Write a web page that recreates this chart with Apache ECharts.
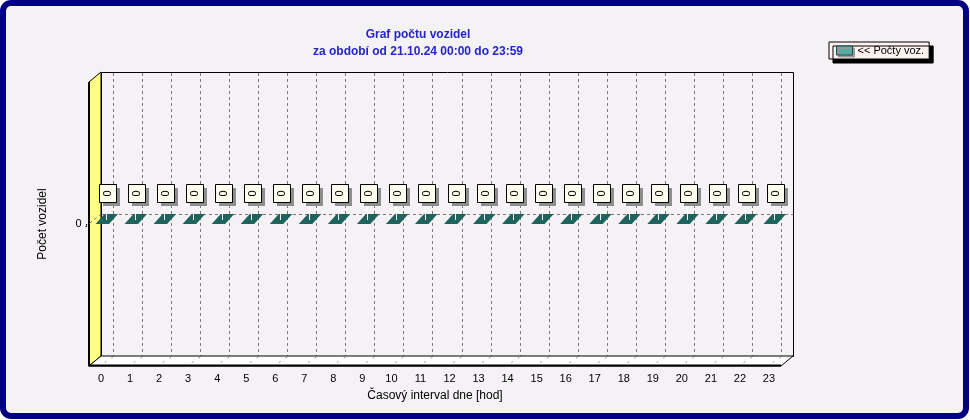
<!DOCTYPE html>
<html><head><meta charset="utf-8">
<script src="https://cdn.jsdelivr.net/npm/echarts@6/dist/echarts.min.js"></script>
<style>
html,body{margin:0;padding:0;background:#ffffff;}
#frame{position:absolute;left:0;top:0;width:969px;height:419px;box-sizing:border-box;border:6px solid #000080;border-radius:11px;background:#f5f2f5;}
#chart{position:absolute;left:0;top:0;width:970px;height:420px;}
</style></head><body>
<div id="frame"></div><div id="chart"></div>
<script>
// ---- data ----
const hours = [0, 1, 2, 3, 4, 5, 6, 7, 8, 9, 10, 11, 12, 13, 14, 15, 16, 17, 18, 19, 20, 21, 22, 23];
const counts = [0, 0, 0, 0, 0, 0, 0, 0, 0, 0, 0, 0, 0, 0, 0, 0, 0, 0, 0, 0, 0, 0, 0, 0];
const seriesName = '<< Počty voz.';
const titleText = 'Graf počtu vozidel\nza období od 21.10.24 00:00 do 23:59';
const xName = 'Časový interval dne [hod]';
const yName = 'Počet vozidel';
const yMin = -1, yMax = 1;
const yTickLabels = [0];

// ---- styling constants ----
const FONT = '"Liberation Sans", Arial, sans-serif';
const DEPTH_X = 12, DEPTH_Y = -10;      // 3D wall depth
const X_LO = -0.414, X_HI = 23.414;     // extent of the box on the x scale

const chart = echarts.init(document.getElementById('chart'), null, {renderer: 'canvas'});
const h = v => Math.round(v) + 0.5;

function renderFrame(params, api) {
  const tl = api.coord([X_LO, yMax]);
  const br = api.coord([X_HI, yMin]);
  const z0 = api.coord([X_LO, 0]);
  const L = tl[0], R = br[0], T = tl[1], B = br[1];
  const bL = L + DEPTH_X, bR = R + DEPTH_X, bT = T + DEPTH_Y, bB = B + DEPTH_Y;
  const ch = [];
  // back wall
  ch.push({type: 'rect', shape: {x: h(bL), y: h(bT), width: Math.round(bR - bL), height: Math.round(bB - bT)},
    style: {fill: '#f5f2f5', stroke: '#000', lineWidth: 1}});
  // back vertical dashed grid lines at categories
  hours.forEach(k => {
    const p = api.coord([k, 0]);
    const x = h(p[0] + DEPTH_X);
    ch.push({type: 'line', shape: {x1: x, y1: bT + 1, x2: x, y2: bB},
      style: {stroke: '#7a7a7a', lineWidth: 1, lineDash: [3, 3]}});
  });
  // back zero line
  const zy = h(z0[1] + DEPTH_Y);
  ch.push({type: 'line', shape: {x1: bL, y1: zy, x2: bR, y2: zy},
    style: {stroke: '#7a7a7a', lineWidth: 1, lineDash: [3, 3]}});
  // yellow left wall
  ch.push({type: 'polygon', shape: {points: [[L, T], [bL, bT], [bL, bB], [L, B]]},
    style: {fill: '#ffff80', stroke: '#000', lineWidth: 1}});
  ch.push({type: 'line', shape: {x1: L, y1: T, x2: L, y2: B}, style: {stroke: '#000', lineWidth: 2}});
  // zero line on the side wall
  ch.push({type: 'line', shape: {x1: L - 4, y1: z0[1] + 3, x2: bL, y2: z0[1] + DEPTH_Y},
    style: {stroke: '#7a7a7a', lineWidth: 1, lineDash: [3, 3]}});
  // floor
  ch.push({type: 'polygon', shape: {points: [[L, B], [bL, bB], [bR, bB], [R, B]]},
    style: {fill: '#ffffff', stroke: '#000', lineWidth: 1}});
  hours.forEach(k => {
    const p = api.coord([k, 0]);
    ch.push({type: 'line', shape: {x1: p[0] + DEPTH_X, y1: bB + 1, x2: p[0], y2: B - 1},
      style: {stroke: '#909090', lineWidth: 1, lineDash: [2, 6]}});
  });
  ch.push({type: 'line', shape: {x1: L - 1, y1: B - 0.5, x2: R, y2: B - 0.5}, style: {stroke: '#000', lineWidth: 2}});
  return {type: 'group', children: ch};
}

function renderBar(params, api) {
  const x = api.value(0), v = api.value(1);
  const p0 = api.coord([x, 0]);
  const pv = api.coord([x, v]);
  const cx = p0[0], base = p0[1], top = pv[1];
  const xl = cx - 5.5, xr = cx + 8, dx = 9, dy = -10;
  const ch = [];
  if (base - top > 0.5) {
    ch.push({type: 'rect', shape: {x: xl, y: top, width: xr - xl, height: base - top}, style: {fill: '#5aa8a0', stroke: '#000', lineWidth: 1}});
    ch.push({type: 'polygon', shape: {points: [[xr, top], [xr + dx, top + dy], [xr + dx, base + dy], [xr, base]]}, style: {fill: '#2d7a72'}});
  }
  ch.push({type: 'polygon', shape: {points: [[xl, top], [xr, top], [xr + dx, top + dy], [xl + dx, top + dy]]},
    style: {fill: '#1e645d'}});
  // leader line
  ch.push({type: 'line', shape: {x1: h(cx + 5), y1: top - 21, x2: h(cx + 5), y2: top - 4}, style: {stroke: '#ffffff', lineWidth: 1}});
  // label box with shadow
  const bx = Math.round(cx) - 2, by = Math.round(top) - 40;
  ch.push({type: 'rect', shape: {x: bx + 4, y: by + 4, width: 17, height: 18}, style: {fill: '#8e8e8e'}});
  ch.push({type: 'rect', shape: {x: bx + 0.5, y: by + 0.5, width: 17, height: 18}, style: {fill: '#fffff0', stroke: '#000', lineWidth: 1}});
  ch.push({type: 'text', x: bx + 9, y: by + 9.5, rotation: Math.PI / 2,
    style: {text: String(v), x: 0, y: 0, align: 'center', verticalAlign: 'middle', fill: '#000', font: '11px ' + FONT}});
  return {type: 'group', children: ch};
}

chart.setOption({
  backgroundColor: 'transparent',
  animation: false,
  textStyle: {fontFamily: FONT},
  title: {
    text: titleText, left: 418, top: 26, padding: 0, textAlign: 'center',
    textStyle: {color: '#2424c8', fontSize: 12, fontWeight: 'bold', lineHeight: 17, fontFamily: FONT}
  },
  legend: {
    data: [{name: seriesName, icon: 'rect'}],
    left: 829, top: 42, orient: 'vertical',
    padding: [3, 5, 3, 7],
    backgroundColor: '#fcf3f1', borderColor: '#000', borderWidth: 1,
    shadowColor: '#000', shadowOffsetX: 4, shadowOffsetY: 4, shadowBlur: 0,
    itemWidth: 16, itemHeight: 9,
    itemStyle: {borderColor: '#1d4f4a', borderWidth: 1, shadowColor: '#9a9a9a', shadowOffsetX: 2, shadowOffsetY: 2, shadowBlur: 0},
    textStyle: {color: '#000', fontSize: 11, fontFamily: FONT},
    selectedMode: false
  },
  grid: {left: 86.5, top: 82, width: 697, height: 284, containLabel: false},
  xAxis: {
    type: 'value', min: -0.5, max: 23.5, interval: 0.5,
    name: xName, nameLocation: 'middle', nameGap: 24,
    nameTextStyle: {color: '#000', fontSize: 12, fontFamily: FONT},
    axisLine: {show: false},
    axisTick: {show: true, length: 3, lineStyle: {color: '#000'}},
    minorTick: {show: true, splitNumber: 2, length: 2, lineStyle: {color: '#000'}},
    splitLine: {show: false},
    axisLabel: {
      color: '#000', fontSize: 11, margin: 7, fontFamily: FONT,
      formatter: v => (Number.isInteger(v) && hours.indexOf(v) >= 0) ? String(hours[v]) : '',
      showMinLabel: true, showMaxLabel: true
    }
  },
  yAxis: {
    type: 'value', min: yMin, max: yMax, interval: 1,
    name: yName, nameLocation: 'middle', nameGap: 38,
    nameTextStyle: {color: '#000', fontSize: 12, fontFamily: FONT},
    axisLine: {show: false}, axisTick: {show: false}, splitLine: {show: false},
    axisLabel: {color: '#000', fontSize: 11, margin: 5, fontFamily: FONT,
      formatter: v => yTickLabels.indexOf(v) >= 0 ? String(v) : ''}
  },
  series: [
    {type: 'custom', name: 'frame', silent: true, z: 1, renderItem: renderFrame, data: [[0, 0]], clip: false},
    {type: 'custom', name: seriesName, z: 2, renderItem: renderBar, clip: false,
      itemStyle: {color: '#5aa8a0'},
      encode: {x: 0, y: 1},
      data: hours.map((hr, i) => [hr, counts[i]])}
  ]
});
</script>
</body></html>
